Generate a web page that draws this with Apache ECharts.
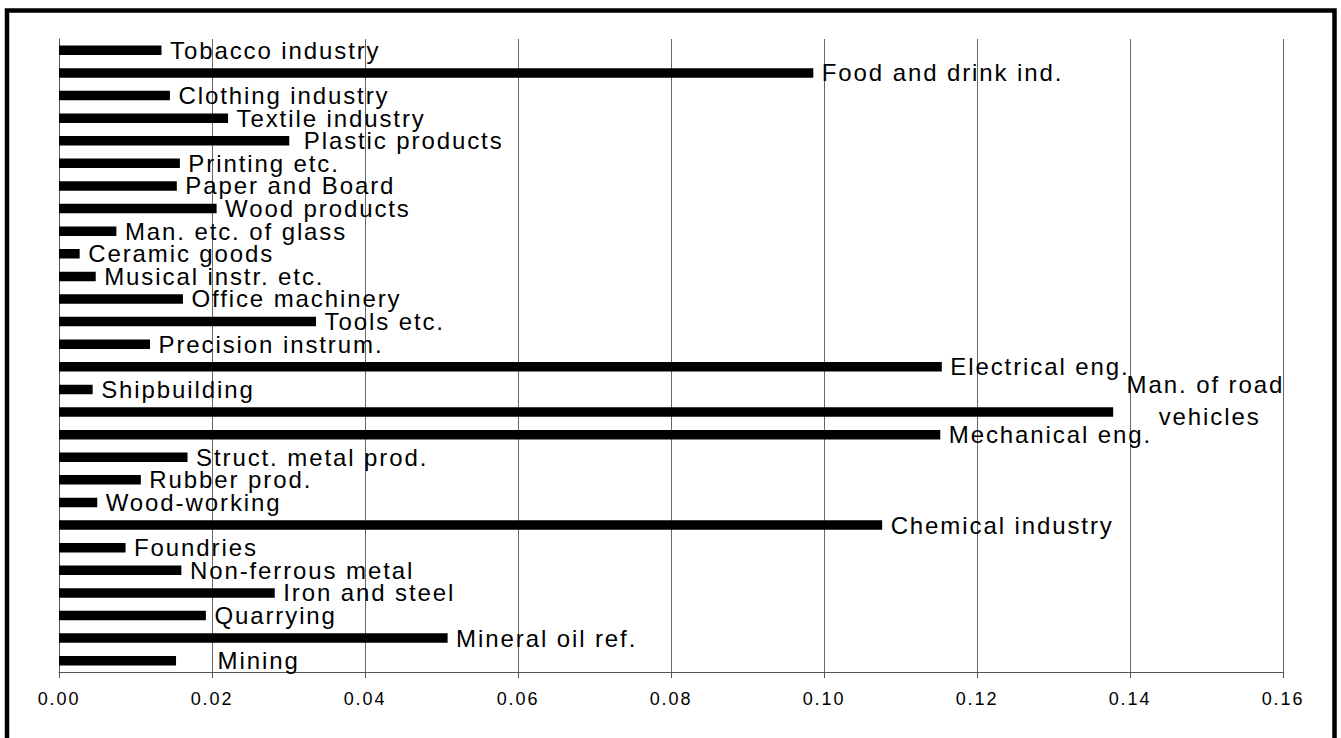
<!DOCTYPE html>
<html>
<head>
<meta charset="utf-8">
<script src="https://cdn.jsdelivr.net/npm/echarts@6/dist/echarts.min.js"></script>
<style>
html, body { margin: 0; padding: 0; background: #fff; }
#chart { width: 1341px; height: 738px; }
#chart text { letter-spacing: 1.9px; }
</style>
</head>
<body>
<div id="chart"></div>
<script>
// ---- data (top to bottom, as in the picture) ----
const categories = [
  'Tobacco industry', 'Food and drink ind.', 'Clothing industry', 'Textile industry',
  'Plastic products', 'Printing etc.', 'Paper and Board', 'Wood products',
  'Man. etc. of glass', 'Ceramic goods', 'Musical instr. etc.', 'Office machinery',
  'Tools etc.', 'Precision instrum.', 'Electrical eng.', 'Shipbuilding',
  'Man. of road vehicles', 'Mechanical eng.', 'Struct. metal prod.', 'Rubber prod.',
  'Wood-working', 'Chemical industry', 'Foundries', 'Non-ferrous metal',
  'Iron and steel', 'Quarrying', 'Mineral oil ref.', 'Mining'
];
const values = [
  0.0134, 0.0986, 0.0145, 0.0221,
  0.0301, 0.0158, 0.0154, 0.0206,
  0.0075, 0.0027, 0.0048, 0.0162,
  0.0336, 0.0119, 0.1154, 0.0044,
  0.1378, 0.1152, 0.0168, 0.0107,
  0.0050, 0.1076, 0.0087, 0.0160,
  0.0282, 0.0192, 0.0508, 0.0153
];
const xTicks = [0, 0.02, 0.04, 0.06, 0.08, 0.10, 0.12, 0.14, 0.16];

// ---- label layout tweaks (kept apart from the data) ----
const labelShift = {
  'Plastic products': [6, 0],
  'Mining': [33, 0]
};
const wrappedLabel = {
  'Man. of road vehicles': { width: 150, overflow: 'break', align: 'center', offset: [88, -12], lineHeight: 32 }
};

const FONT = 'Liberation Sans, Arial, sans-serif';

const seriesData = categories.map(function (name, i) {
  const item = { value: values[i], name: name };
  if (labelShift[name]) item.label = { offset: labelShift[name] };
  if (wrappedLabel[name]) item.label = wrappedLabel[name];
  return item;
});

const chart = echarts.init(document.getElementById('chart'), null, { renderer: 'svg' });
chart.setOption({
  animation: false,
  backgroundColor: '#fff',
  grid: { left: 59, right: 58, top: 39, bottom: 66, containLabel: false },
  xAxis: {
    type: 'value',
    min: xTicks[0],
    max: xTicks[xTicks.length - 1],
    interval: xTicks[1] - xTicks[0],
    axisLine: { show: true, lineStyle: { color: '#555', width: 1 } },
    axisTick: { show: true, length: 6, lineStyle: { color: '#555' } },
    splitLine: { show: true, lineStyle: { color: '#666', width: 1 } },
    axisLabel: {
      margin: 18,
      color: '#000',
      fontFamily: FONT,
      fontSize: 18,
      formatter: function (v) { return v.toFixed(2); }
    }
  },
  yAxis: {
    type: 'category',
    data: categories,
    inverse: true,
    axisLine: { show: true, lineStyle: { color: '#555', width: 1 } },
    axisTick: { show: false },
    axisLabel: { show: false },
    splitLine: { show: false }
  },
  series: [{
    type: 'bar',
    data: seriesData,
    barWidth: 9.5,
    itemStyle: { color: '#000' },
    label: {
      show: true,
      position: 'right',
      distance: 8.5,
      color: '#000',
      fontFamily: FONT,
      fontSize: 24,
      formatter: '{b}'
    }
  }],
  graphic: [{
    type: 'rect',
    shape: { x: 7, y: 10.5, width: 1327.5, height: 780 },
    style: { fill: 'none', stroke: '#000', lineWidth: 4.5 },
    silent: true
  }]
});
</script>
</body>
</html>
